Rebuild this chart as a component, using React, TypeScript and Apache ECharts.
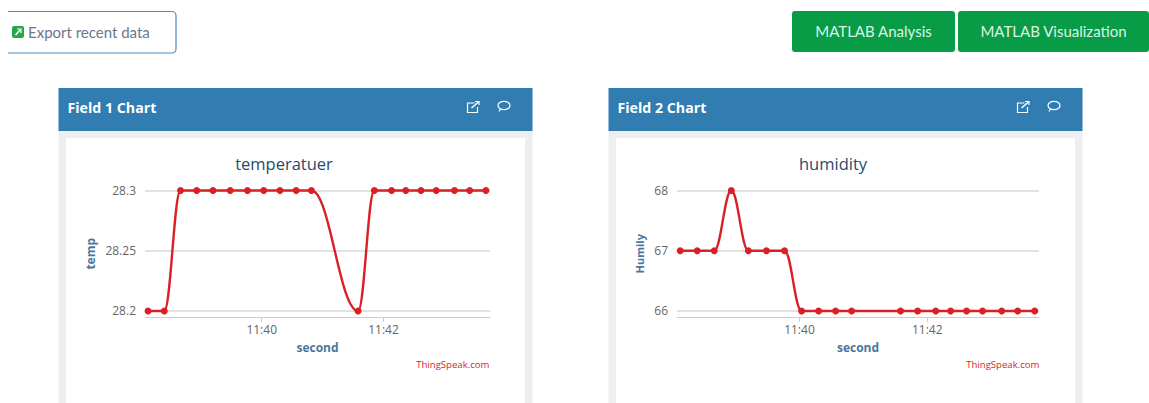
import React, { useEffect, useRef } from "react";
import * as echarts from "echarts";

const sampleTimes = [
  "11:38:08", "11:38:24", "11:38:40", "11:38:56", "11:39:12", "11:39:29", "11:39:46",
  "11:40:02", "11:40:18", "11:40:34", "11:40:49", "11:41:35", "11:41:51", "11:42:08",
  "11:42:22", "11:42:37", "11:42:52", "11:43:10", "11:43:25", "11:43:41",
];
const tempValues = [28.2, 28.2, 28.3, 28.3, 28.3, 28.3, 28.3, 28.3, 28.3, 28.3, 28.3, 28.2, 28.3, 28.3, 28.3, 28.3, 28.3, 28.3, 28.3, 28.3];
const humidityValues = [67, 67, 67, 68, 67, 67, 67, 66, 66, 66, 66, 66, 66, 66, 66, 66, 66, 66, 66, 66];
const timeTicks = ["11:40:00", "11:42:00"];
const tempTicks = [28.2, 28.25, 28.3];
const humidityTicks = [66, 67, 68];
const chartTitles = ["temperatuer", "humidity"];
const panelTitles = ["Field 1 Chart", "Field 2 Chart"];
const yNames = ["temp", "Humily"];
const xName = "second";
const credit = "ThingSpeak.com";
const buttons = ["MATLAB Analysis", "MATLAB Visualization"];
const exportLabel = "Export recent data";

const day = "2020-01-01T";
const ms = (t: string) => new Date(day + t).getTime();
const pairs = (vals: number[]) => sampleTimes.map((t, i) => [ms(t), vals[i]]);

const RED = "#D92027";
const FONT = "'Open Sans', 'Noto Sans', sans-serif";
const UI = "Lato, 'Open Sans', sans-serif";

function xAxis(grid: number) {
  return {
    type: "value",
    gridIndex: grid,
    min: ms("11:38:05"),
    max: ms("11:43:45"),
    name: xName,
    nameLocation: "middle",
    nameGap: 24,
    nameTextStyle: { color: "#4D759E", fontWeight: "bold", fontSize: 12, fontFamily: FONT },
    axisLine: { show: true, lineStyle: { color: "#C0D0E0", width: 1 } },
    axisTick: { show: true, length: 5, lineStyle: { color: "#C0D0E0" }, customValues: timeTicks.map(ms) },
    axisLabel: {
      color: "#666666", fontSize: 12, fontFamily: FONT, margin: 6,
      customValues: timeTicks.map(ms),
      formatter: (v: number) => {
        const d = new Date(v);
        return d.getHours() + ":" + String(d.getMinutes()).padStart(2, "0");
      },
    },
    splitLine: { show: false },
  };
}

function yAxis(grid: number, min: number, max: number, ticks: number[], name: string, gap: number, nameSize: number) {
  return {
    type: "value",
    gridIndex: grid,
    min,
    max,
    name,
    nameLocation: "middle",
    nameGap: gap,
    nameTextStyle: { color: "#4D759E", fontWeight: "bold", fontSize: nameSize, fontFamily: FONT },
    axisLine: { show: false },
    axisTick: { show: false, customValues: ticks },
    axisLabel: { color: "#666666", fontSize: 12, fontFamily: FONT, margin: 9, customValues: ticks, showMinLabel: true, showMaxLabel: true },
    splitLine: { show: true, lineStyle: { color: "#D8D8D8", width: 1.5 } },
  };
}

function series(grid: number, vals: number[]) {
  return {
    type: "line",
    xAxisIndex: grid,
    yAxisIndex: grid,
    data: pairs(vals),
    smooth: 0.4,
    smoothMonotone: "x",
    clip: false,
    showSymbol: true,
    showAllSymbol: true,
    symbol: "circle",
    symbolSize: 7,
    lineStyle: { color: RED, width: 2.4 },
    itemStyle: { color: RED },
  };
}

function panel(x: number, title: string) {
  const w = 474;
  return [
    { type: "rect", shape: { x, y: 131, width: w, height: 272 }, style: { fill: "#EEEEEE" }, z: -5 },
    { type: "rect", shape: { x: x + 7.5, y: 138, width: w - 15, height: 265 }, style: { fill: "#FFFFFF" }, z: -4 },
    { type: "rect", shape: { x, y: 88, width: w, height: 43 }, style: { fill: "#317DB2" }, z: -3 },
    { type: "text", x: x + 9, y: 107, style: { text: title, fill: "#FFFFFF", font: `bold 14.2px ${FONT}`, textVerticalAlign: "middle" }, z: 2 },
    // external-link icon
    { type: "polyline", shape: { points: [[x + 416, 103], [x + 409, 103], [x + 409, 112.5], [x + 419, 112.5], [x + 419, 107]] }, style: { stroke: "#FFFFFF", lineWidth: 1.2, fill: "none" }, z: 2 },
    { type: "line", shape: { x1: x + 413, y1: 108, x2: x + 420, y2: 102 }, style: { stroke: "#FFFFFF", lineWidth: 1.6 }, z: 2 },
    { type: "polyline", shape: { points: [[x + 416.5, 101.5], [x + 420.5, 101.5], [x + 420.5, 105]] }, style: { stroke: "#FFFFFF", lineWidth: 1.2, fill: "none" }, z: 2 },
    // comment icon
    { type: "ellipse", shape: { cx: x + 445.5, cy: 105.5, rx: 6, ry: 4.2 }, style: { stroke: "#FFFFFF", lineWidth: 1.2, fill: "none" }, z: 2 },
    { type: "line", shape: { x1: x + 442, y1: 109, x2: x + 440.5, y2: 111.5 }, style: { stroke: "#FFFFFF", lineWidth: 1.2 }, z: 2 },
    { type: "text", x: x + 431, y: 364, style: { text: credit, fill: "#D9232B", font: `9.6px ${FONT}`, textAlign: "right", textVerticalAlign: "middle" }, z: 2 },
  ];
}

function greenButton(x: number, w: number, label: string) {
  return [
    { type: "rect", shape: { x, y: 11, width: w, height: 41, r: 3 }, style: { fill: "#099C47" } },
    { type: "text", x: x + w / 2, y: 31, style: { text: label, fill: "#DDF3E6", font: `15px ${UI}`, textAlign: "center", textVerticalAlign: "middle" } },
  ];
}

export default function App() {
  const ref = useRef<HTMLDivElement>(null);
  useEffect(() => {
    const chart = echarts.init(ref.current!, undefined, { renderer: "svg" });
    chart.setOption({
      animation: false,
      backgroundColor: "#FFFFFF",
      title: [
        { text: chartTitles[0], left: 279, top: 150, textAlign: "center", textStyle: { color: "#274B6D", fontSize: 16.5, fontWeight: "normal", fontFamily: FONT } },
        { text: chartTitles[1], left: 828, top: 150, textAlign: "center", textStyle: { color: "#274B6D", fontSize: 16.5, fontWeight: "normal", fontFamily: FONT } },
      ],
      grid: [
        { left: 145, right: 1149 - 490, top: 190.5, height: 126.5 },
        { left: 677, right: 1149 - 1039, top: 190.5, height: 126.5 },
      ],
      xAxis: [xAxis(0), xAxis(1)],
      yAxis: [
        yAxis(0, 28.195, 28.3, tempTicks, yNames[0], 49, 12),
        yAxis(1, 65.9, 68, humidityTicks, yNames[1], 32, 11),
      ],
      series: [series(0, tempValues), series(1, humidityValues)],
      graphic: {
        elements: [
          ...panel(58.5, panelTitles[0]),
          ...panel(608.5, panelTitles[1]),
          ...greenButton(792, 163, buttons[0]),
          ...greenButton(958, 191, buttons[1]),
          { type: "rect", shape: { x: -10, y: 11.5, width: 186, height: 41.5, r: 4 }, style: { stroke: "#4A8BC2", lineWidth: 1.2, fill: "#FFFFFF" } },
          { type: "rect", shape: { x: 0, y: 9, width: 8, height: 47 }, style: { fill: "#FFFFFF" } },
          { type: "rect", shape: { x: 12, y: 26, width: 12, height: 12, r: 2 }, style: { fill: "#25A84A" } },
          { type: "line", shape: { x1: 15.5, y1: 35, x2: 20.5, y2: 29.5 }, style: { stroke: "#FFFFFF", lineWidth: 1.6 } },
          { type: "polyline", shape: { points: [[17, 29], [21, 29], [21, 33]] }, style: { stroke: "#FFFFFF", lineWidth: 1.2, fill: "none" } },
          { type: "text", x: 28, y: 32, style: { text: exportLabel, fill: "#69788C", font: `15px ${UI}`, textVerticalAlign: "middle" } },
        ],
      },
    });
    return () => chart.dispose();
  }, []);
  return <div ref={ref} style={{ position: "fixed", left: 0, top: 0, width: 1149, height: 403 }} />;
}
